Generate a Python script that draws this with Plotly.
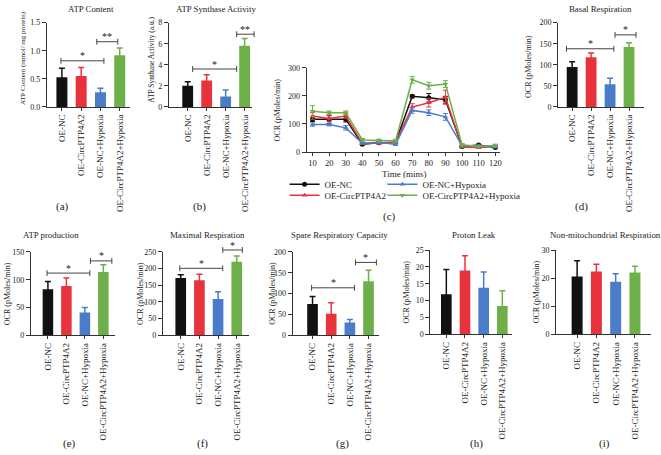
import plotly.graph_objects as go

W, H = 661, 455

# ---------------- data ----------------
groups = ["OE-NC", "OE-CircPTP4A2", "OE-NC+Hypoxia", "OE-CircPTP4A2+Hypoxia"]

atp_content = [0.53, 0.55, 0.26, 0.92]
atp_content_err = [0.16, 0.15, 0.07, 0.13]
atp_synthase = [2.0, 2.5, 1.0, 5.8]
atp_synthase_err = [0.4, 0.55, 0.6, 0.7]
basal_resp = [95, 118, 54, 142]
basal_resp_err = [12, 10, 14, 10]
atp_production = [83, 89, 41, 114]
atp_production_err = [14, 14, 9, 13]
maximal_resp = [172, 165, 109, 221]
maximal_resp_err = [10, 18, 22, 17]
spare_capacity = [75, 52, 31, 130]
spare_capacity_err = [18, 26, 7, 26]
proton_leak = [11.9, 18.9, 13.8, 8.4]
proton_leak_err = [7.3, 4.4, 4.7, 4.5]
non_mito = [20.6, 22.4, 18.7, 22.0]
non_mito_err = [5.6, 2.5, 2.9, 2.2]

time_mins = [10, 20, 30, 40, 50, 60, 70, 80, 90, 100, 110, 120]
ocr_nc = [117, 116, 117, 28, 33, 35, 198, 193, 186, 20, 25, 16]
ocr_nc_err = [8, 15, 10, 3, 3, 3, 5, 15, 12, 3, 3, 3]
ocr_circ = [128, 119, 128, 31, 31, 35, 160, 175, 195, 18, 16, 20]
ocr_circ_err = [12, 10, 8, 3, 3, 3, 12, 15, 25, 3, 3, 3]
ocr_nc_hyp = [98, 98, 86, 31, 35, 27, 148, 140, 125, 22, 22, 18]
ocr_nc_hyp_err = [6, 5, 8, 3, 3, 3, 10, 10, 12, 3, 3, 3]
ocr_circ_hyp = [145, 140, 140, 43, 41, 40, 257, 236, 242, 26, 20, 23]
ocr_circ_hyp_err = [20, 6, 6, 5, 5, 5, 12, 12, 12, 4, 3, 5]

# ---------------- styles / layout config ----------------
colors = ["#111111", "#E8333C", "#4A7CC9", "#6DB04A"]
FONT = "Liberation Serif"
AX_COLOR = "#333333"

panels = [
    dict(box=(47, 130, 19, 105), first=62, sp=19.3, yr=(0, 1.5), dtick=0.5, fmt=".1f",
         vals=atp_content, err=atp_content_err, title="ATP Content", tpos=(91, 5),
         ytitle="ATP Content (mmol/ mg protein)", ytpos=(23, 55), ytsize=7,
         label="(a)", lpos=(63, 207),
         brackets=[(-0.05, 2.18, 0.82, "*"), (1.81, 2.9, 1.16, "**")]),
    dict(box=(169, 252, 19, 105), first=188, sp=19, yr=(0, 8), dtick=2, fmt="",
         vals=atp_synthase, err=atp_synthase_err, title="ATP Synthase Activity", tpos=(216, 5),
         ytitle="ATP Synthase Activity (a.u.)", ytpos=(152, 57), ytsize=7.5,
         label="(b)", lpos=(200, 207),
         brackets=[(0.26, 2.58, 3.6, "*"), (2.58, 3.5, 6.9, "**")]),
    None,  # line chart (c)
    dict(box=(559, 645, 19, 105), first=573, sp=19, yr=(0, 200), dtick=50, fmt="",
         vals=basal_resp, err=basal_resp_err, title="Basal Respiration", tpos=(601, 5),
         ytitle="OCR (pMoles/min)", ytpos=(530, 64), ytsize=8,
         label="(d)", lpos=(582, 207),
         brackets=[(-0.3, 2.2, 138, "*"), (2.26, 3.37, 171, "*")]),
    dict(box=(31, 115, 253, 338), first=48, sp=18.5, yr=(0, 150), dtick=50, fmt="",
         vals=atp_production, err=atp_production_err, title="ATP production", tpos=(51, 236),
         ytitle="OCR (pMoles/min)", ytpos=(7, 295), ytsize=8,
         label="(e)", lpos=(70, 448),
         brackets=[(-0.05, 2.27, 112, "*"), (2.3, 3.46, 134, "*")]),
    dict(box=(163, 249, 253, 338), first=181, sp=18.7, yr=(0, 250), dtick=50, fmt="",
         vals=maximal_resp, err=maximal_resp_err, title="Maximal Respiration", tpos=(208, 236),
         ytitle="OCR (pMoles/min)", ytpos=(140, 295), ytsize=8,
         label="(f)", lpos=(203, 448),
         brackets=[(-0.05, 2.25, 201, "*"), (2.25, 3.3, 256, "*")]),
    dict(box=(293, 380, 253, 338), first=313, sp=18.7, yr=(0, 200), dtick=50, fmt="",
         vals=spare_capacity, err=spare_capacity_err, title="Spare Respiratory Capacity", tpos=(340, 236),
         ytitle="OCR (pMoles/min)", ytpos=(273, 295), ytsize=8,
         label="(g)", lpos=(343, 448),
         brackets=[(-0.05, 2.25, 114, "*"), (2.3, 3.42, 175, "*")]),
    dict(box=(431, 513, 251, 337), first=447, sp=18.7, yr=(0, 25), dtick=5, fmt="",
         vals=proton_leak, err=proton_leak_err, title="Proton Leak", tpos=(475, 236),
         ytitle="OCR (pMoles/min)", ytpos=(407, 294), ytsize=8,
         label="(h)", lpos=(477, 448), brackets=[]),
    dict(box=(557, 652, 251, 337), first=578, sp=19.3, yr=(0, 30), dtick=10, fmt="",
         vals=non_mito, err=non_mito_err, title="Non-mitochondrial Respiration", tpos=(606, 236),
         ytitle="OCR (pMoles/min)", ytpos=(537, 294), ytsize=8,
         label="(i)", lpos=(605, 448), brackets=[]),
]

fig = go.Figure()
annotations = []
shapes = []


def ann(text, px, py, size=9, angle=0, xanchor="center", yanchor="middle"):
    annotations.append(dict(text=text, x=px / W, y=1 - py / H, xref="paper", yref="paper",
                            showarrow=False, textangle=angle, xanchor=xanchor, yanchor=yanchor,
                            font=dict(family=FONT, size=size, color="#222222")))


def axis_common():
    return dict(showline=True, linecolor=AX_COLOR, linewidth=1, ticks="outside",
                ticklen=3, tickwidth=1, tickcolor=AX_COLOR, showgrid=False, zeroline=False,
                tickfont=dict(family=FONT, size=8, color="#222222"))


for idx, p in enumerate(panels):
    n = idx + 1
    sfx = "" if n == 1 else str(n)
    if p is None:
        continue
    L, R, T, B = p["box"]
    xr = ((L - p["first"]) / p["sp"], (R - p["first"]) / p["sp"])
    for g in range(4):
        fig.add_trace(go.Bar(
            x=[g], y=[p["vals"][g]], width=0.57, marker=dict(color=colors[g], line=dict(width=0)),
            error_y=dict(type="data", array=[p["err"][g]], color=colors[g], thickness=1.5, width=3),
            xaxis="x" + sfx, yaxis="y" + sfx, showlegend=False, name=groups[g]))
    xa = axis_common()
    xa.update(domain=[L / W, R / W], range=list(xr), tickvals=[0, 1, 2, 3], ticktext=groups,
              tickangle=-90, anchor="y" + sfx,
              tickfont=dict(family=FONT, size=9, color="#222222"))
    ya = axis_common()
    ya.update(domain=[1 - B / H, 1 - T / H], range=list(p["yr"]), dtick=p["dtick"],
              tick0=0, anchor="x" + sfx, ticklen=4)
    if p["fmt"]:
        ya["tickformat"] = p["fmt"]
    fig.update_layout(**{"xaxis" + sfx: xa, "yaxis" + sfx: ya})

    ann(p["title"], *p["tpos"], size=8.8)
    ann(p["ytitle"], *p["ytpos"], size=p["ytsize"], angle=-90)
    ann(p["label"], *p["lpos"], size=11)

    def xpix(v, p=p):
        return p["first"] + v * p["sp"]

    def ypix(v, p=p):
        y0, y1 = p["yr"]
        return p["box"][3] - (v - y0) / (y1 - y0) * (p["box"][3] - p["box"][2])

    for (a, b, yv, star) in p["brackets"]:
        x0, x1, yy = xpix(a) / W, xpix(b) / W, 1 - ypix(yv) / H
        c = 3 / H
        shapes.append(dict(type="path", xref="paper", yref="paper",
                           path=f"M {x0},{yy - c} L {x0},{yy + c} M {x0},{yy} L {x1},{yy} "
                                f"M {x1},{yy - c} L {x1},{yy + c}",
                           line=dict(color="#444444", width=1)))
        ann(star, (xpix(a) + xpix(b)) / 2, ypix(yv) - 5, size=10)

# ---------------- line chart (c) ----------------
line_series = [
    (ocr_nc, ocr_nc_err, groups[0], colors[0], "circle", "legend"),
    (ocr_circ, ocr_circ_err, groups[1], colors[1], "triangle-up", "legend3"),
    (ocr_nc_hyp, ocr_nc_hyp_err, groups[2], colors[2], "triangle-up", "legend2"),
    (ocr_circ_hyp, ocr_circ_hyp_err, groups[3], colors[3], "triangle-down", "legend4"),
]
for vals, err, name, col, sym, lg in line_series:
    fig.add_trace(go.Scatter(
        x=time_mins, y=vals, mode="lines+markers", name=name,
        line=dict(color=col, width=1.5), marker=dict(symbol=sym, size=5, color=col),
        error_y=dict(type="data", array=err, color=col, thickness=1, width=2.5),
        xaxis="x3", yaxis="y3", legend=lg))

cL, cR, cT, cB = 307, 501, 65, 151
xa = axis_common()
xa.update(domain=[cL / W, cR / W], range=[6.4, 123], tickvals=time_mins, anchor="y3",
          tickfont=dict(family=FONT, size=8.5, color="#222222"))
ya = axis_common()
ya.update(domain=[1 - cB / H, 1 - cT / H], range=[0, 300], dtick=100, anchor="x3", ticklen=4)
fig.update_layout(xaxis3=xa, yaxis3=ya)
ann("Time (mins)", 405, 173, size=9)
ann("OCR (pMoles/min)", 278, 108, size=8, angle=-90)
ann("(c)", 390, 217, size=11)

leg_common = dict(orientation="h", font=dict(family=FONT, size=9, color="#222222"),
                  itemwidth=30, bgcolor="rgba(0,0,0,0)", xanchor="left", yanchor="middle")
fig.update_layout(
    legend=dict(leg_common, x=285 / W, y=1 - 184 / H),
    legend2=dict(leg_common, x=383 / W, y=1 - 184 / H),
    legend3=dict(leg_common, x=285 / W, y=1 - 195 / H),
    legend4=dict(leg_common, x=383 / W, y=1 - 195 / H),
)

fig.update_layout(width=W, height=H, margin=dict(l=0, r=0, t=0, b=0),
                  paper_bgcolor="white", plot_bgcolor="white", barmode="overlay",
                  font=dict(family=FONT, size=9, color="#222222"),
                  annotations=annotations, shapes=shapes)

fig.write_html("out.html", config={"displayModeBar": False},
               post_script="document.body.style.margin='0px';document.body.style.padding='0px';")
